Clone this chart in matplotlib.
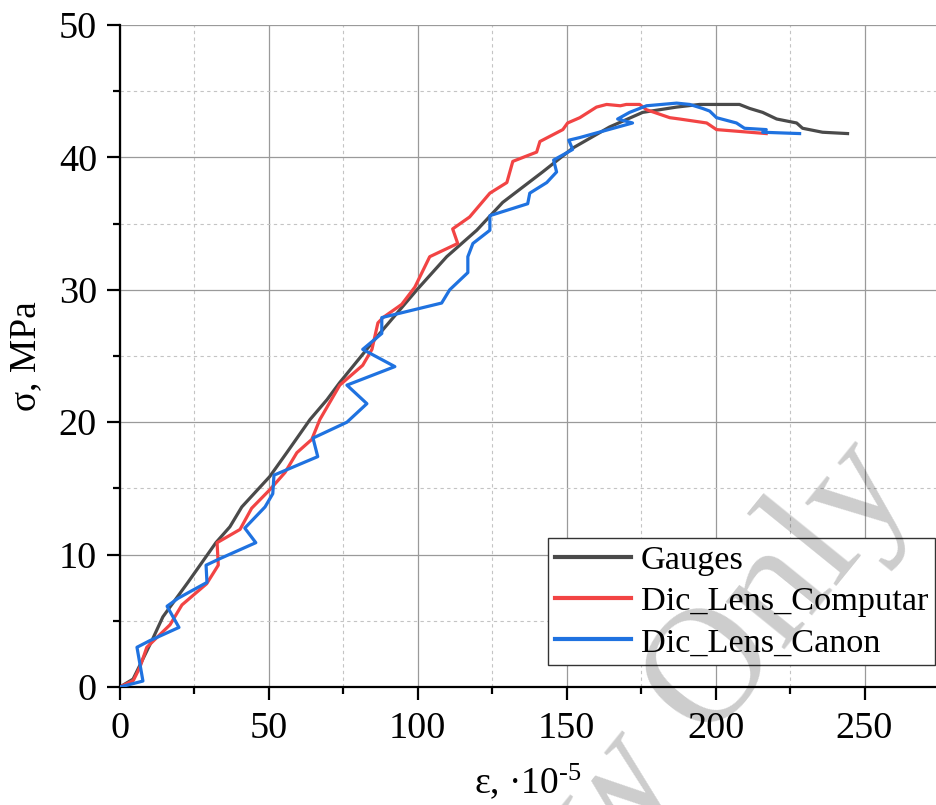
import matplotlib
matplotlib.use("Agg")
import matplotlib.pyplot as plt
from matplotlib.ticker import MultipleLocator

plt.rcParams['font.family'] = ['Liberation Serif', 'DejaVu Serif']
plt.rcParams['mathtext.fontset'] = 'custom'
plt.rcParams['mathtext.rm'] = 'Liberation Serif'
plt.rcParams['mathtext.it'] = 'Liberation Serif:italic'

# ---- data (strain x1e-5, stress MPa) ----
gauges_x = [0, 4.4, 10.7, 14.4, 22.8, 32.2, 36.9, 40.9, 50.3, 56.0, 63.8, 69.5, 73.8,
            87.2, 99.7, 109.7, 119.8, 128.5, 141.9, 152.0, 164.4, 175.5, 186.9,
            194.6, 208.0, 211.4, 215.8, 220.5, 227.2, 229.2, 235.9, 244.3]
gauges_y = [0, 0.6, 3.5, 5.3, 7.9, 10.9, 12.1, 13.6, 15.9, 17.7, 20.2, 21.7, 23.0,
            26.7, 30.0, 32.5, 34.5, 36.6, 38.9, 40.7, 42.3, 43.4, 43.8,
            44.0, 44.0, 43.7, 43.4, 42.9, 42.6, 42.2, 41.9, 41.8]

computar_x = [0, 4.5, 6.7, 9.0, 16.8, 20.8, 29.1, 33.0, 32.6, 40.3, 44.2, 50.3, 55.4,
              59.4, 64.4, 67.1, 73.8, 81.5, 84.6, 86.6, 88.3, 94.6, 99.0, 104.0,
              113.4, 111.7, 117.4, 124.2, 129.9, 131.9, 139.9, 141.0, 148.7, 150.3,
              154.4, 160.0, 163.4, 168.0, 170.0, 174.5, 176.8, 184.6, 187.9, 197.0,
              200.3, 211.4, 217.0]
computar_y = [0, 0.5, 1.5, 3.0, 4.7, 6.2, 7.8, 9.2, 10.9, 11.9, 13.5, 14.9, 16.2,
              17.7, 18.7, 20.2, 22.8, 24.3, 25.5, 27.5, 27.9, 28.9, 30.2, 32.5,
              33.5, 34.6, 35.5, 37.3, 38.1, 39.7, 40.4, 41.2, 42.1, 42.6,
              43.0, 43.8, 44.0, 43.9, 44.0, 44.0, 43.6, 43.0, 42.9, 42.6,
              42.1, 41.9, 41.8]

canon_x = [0, 7.7, 5.7, 10.0, 19.8, 15.8, 19.5, 29.2, 28.9, 33.6, 45.6, 41.9, 48.7,
           51.3, 51.7, 66.4, 64.8, 76.2, 82.9, 76.2, 92.3, 81.5, 87.9, 87.9, 108.0,
           110.7, 116.8, 116.8, 118.5, 124.2, 124.2, 136.9, 137.6, 143.3, 146.6,
           145.6, 152.0, 150.7, 154.4, 172.1, 167.1, 171.1, 176.8, 186.9, 191.3,
           195.6, 198.0, 200.3, 207.0, 209.7, 217.0, 215.8, 228.2]
canon_y = [0, 0.45, 3.0, 3.5, 4.5, 6.1, 6.7, 7.9, 9.2, 9.7, 10.9, 12.0, 13.6,
           14.6, 16.0, 17.4, 18.8, 20.0, 21.4, 22.8, 24.2, 25.5, 26.7, 27.9, 29.0,
           30.0, 31.3, 32.5, 33.5, 34.5, 35.6, 36.5, 37.3, 38.1, 38.9,
           39.8, 40.6, 41.3, 41.5, 42.6, 42.9, 43.4, 43.9, 44.1, 44.0,
           43.7, 43.5, 43.0, 42.6, 42.2, 42.1, 41.9, 41.8]

series_names = ["Gauges", "Dic_Lens_Computar", "Dic_Lens_Canon"]
series_colors = ["#4a4a4a", "#f24444", "#1f72e0"]

fig = plt.figure(figsize=(9.36, 8.05), dpi=100)
ax = fig.add_axes([120/936, 1-687/805, 1-120/936, (687-25)/805])

for xs, ys, name, c in zip([gauges_x, computar_x, canon_x],
                           [gauges_y, computar_y, canon_y],
                           series_names, series_colors):
    ax.plot(xs, ys, color=c, lw=2.3, label=name, zorder=3)

ax.set_xlim(0, 274)
ax.set_ylim(0, 50)
ax.xaxis.set_major_locator(MultipleLocator(50))
ax.xaxis.set_minor_locator(MultipleLocator(25))
ax.yaxis.set_major_locator(MultipleLocator(10))
ax.yaxis.set_minor_locator(MultipleLocator(5))

ax.grid(which='major', color='#9a9a9a', lw=0.9, ls='-', zorder=0)
ax.grid(which='minor', color='#c4c4c4', lw=0.8, ls=(0, (3, 3)), zorder=0)
ax.set_axisbelow(True)

for s in ['top', 'right']:
    ax.spines[s].set_visible(False)
for s in ['left', 'bottom']:
    ax.spines[s].set_linewidth(1.6)
    ax.spines[s].set_color('black')

ax.tick_params(which='major', direction='out', length=9.5, width=1.6,
               labelsize=27.5, pad=7)
ax.tick_params(which='minor', direction='out', length=5, width=1.6)
ax.tick_params(axis='x', which='major', pad=8)

ax.set_xlabel('ε, ·10$^{\\mathrm{\u20105}}$', fontsize=27)
ax.xaxis.set_label_coords(0.5, -0.112)
ax.set_ylabel('σ, MPa', fontsize=27)
ax.yaxis.set_label_coords(-0.094, 0.5)

leg = ax.legend(loc='lower right', bbox_to_anchor=(0.999, 0.033), borderaxespad=0,
                fontsize=24.7, frameon=True, fancybox=False, framealpha=1,
                edgecolor='#333333', handlelength=2.2, handletextpad=0.3,
                borderpad=0.2, labelspacing=0.3)
leg.get_frame().set_linewidth(1.0)
for line in leg.get_lines():
    line.set_linewidth(3.0)

# watermark
fig.text(916/936, 1-488/805, 'For Review Only', fontsize=119, color='black',
         alpha=0.2, rotation=51, rotation_mode='anchor', ha='right', va='baseline',
         zorder=10)

fig.savefig('out.png', dpi=100)
